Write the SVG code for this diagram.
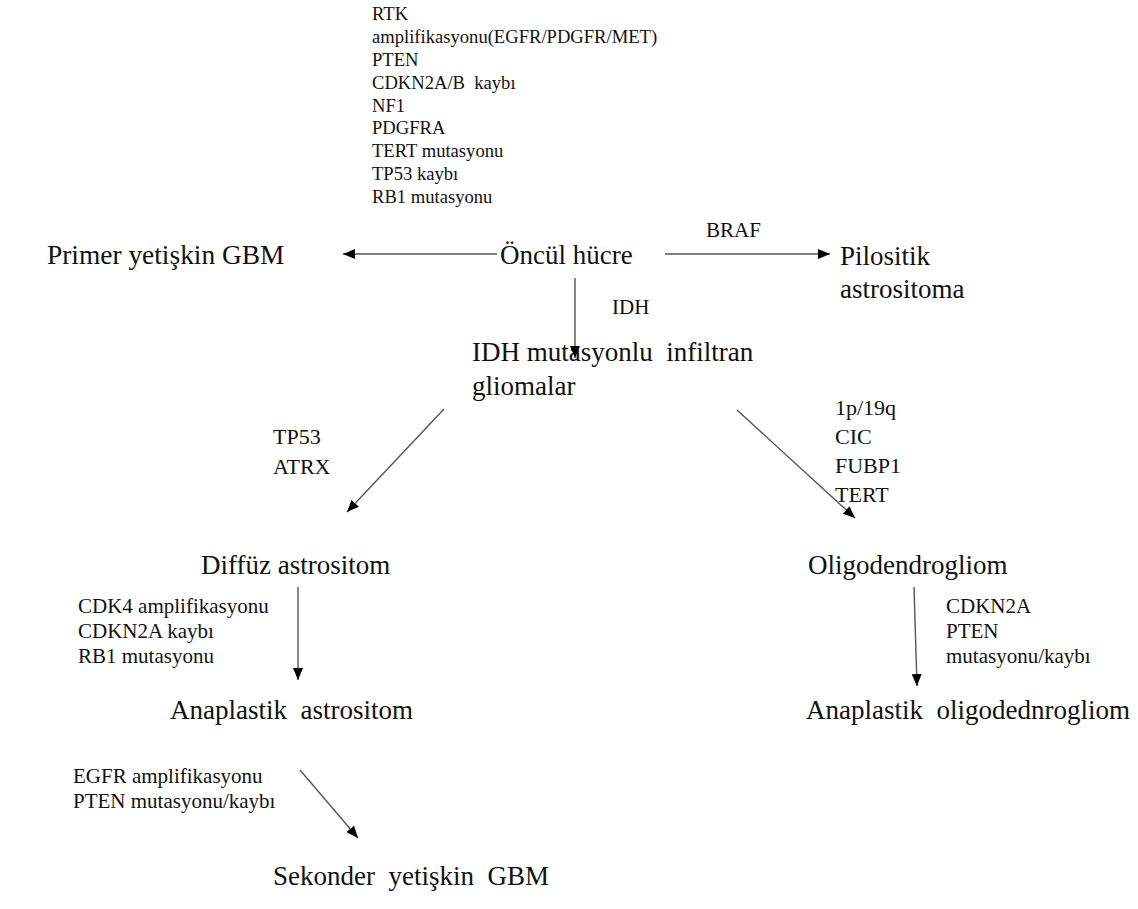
<svg xmlns="http://www.w3.org/2000/svg" width="1138" height="909" viewBox="0 0 1138 909">
<style>
text{font-family:"Liberation Serif","Times New Roman",serif;fill:#111}
.big{font-size:27px}
.sm{font-size:18.6px}
.md{font-size:21px}
.lb{font-size:22px}
.conn line{stroke:#555;stroke-width:1.4;fill:none}
</style>
<defs>
<marker id="ah" markerWidth="12" markerHeight="10" refX="12" refY="5" orient="auto" markerUnits="userSpaceOnUse">
<path d="M0,0 L12,5 L0,10 Z" fill="#000"/>
</marker>
</defs>
<rect width="1138" height="909" fill="#fff"/>

<g id="labels-top" class="sm">
<text x="372" y="20">RTK</text>
<text x="372" y="43">amplifikasyonu(EGFR/PDGFR/MET)</text>
<text x="372" y="66">PTEN</text>
<text x="372" y="89" xml:space="preserve">CDKN2A/B  kaybı</text>
<text x="372" y="112">NF1</text>
<text x="372" y="134">PDGFRA</text>
<text x="372" y="157">TERT mutasyonu</text>
<text x="372" y="180">TP53 kaybı</text>
<text x="372" y="203">RB1 mutasyonu</text>
</g>

<g id="n-primer"><text class="big" x="47" y="264" style="font-size:27.4px">Primer yetişkin GBM</text></g>
<g id="n-oncul"><text class="big" x="500" y="264">Öncül hücre</text></g>
<g id="n-pilositik">
<text class="big" x="840" y="265">Pilositik</text>
<text class="big" x="840" y="298">astrositoma</text>
</g>
<g id="n-idh">
<text class="big" x="472" y="361" xml:space="preserve">IDH mutasyonlu  infiltran</text>
<text class="big" x="472" y="395">gliomalar</text>
</g>
<g id="n-diffuz"><text class="big" x="201" y="574">Diffüz astrositom</text></g>
<g id="n-oligo"><text class="big" x="808" y="574">Oligodendrogliom</text></g>
<g id="n-anaplastik-a"><text class="big" x="170" y="719" xml:space="preserve">Anaplastik  astrositom</text></g>
<g id="n-anaplastik-o"><text class="big" x="806" y="719" xml:space="preserve">Anaplastik  oligodednrogliom</text></g>
<g id="n-sekonder"><text class="big" x="273" y="885" xml:space="preserve">Sekonder  yetişkin  GBM</text></g>

<g id="edge-labels">
<text class="md" x="706" y="237">BRAF</text>
<text class="md" x="612" y="314">IDH</text>
<text class="lb" x="273" y="444">TP53</text>
<text class="lb" x="273" y="474">ATRX</text>
<text class="lb" x="835" y="415">1p/19q</text>
<text class="lb" x="835" y="444">CIC</text>
<text class="lb" x="835" y="473">FUBP1</text>
<text class="lb" x="835" y="502">TERT</text>
<text class="md" x="78" y="613">CDK4 amplifikasyonu</text>
<text class="md" x="78" y="638">CDKN2A kaybı</text>
<text class="md" x="78" y="663">RB1 mutasyonu</text>
<text class="md" x="946" y="613">CDKN2A</text>
<text class="md" x="946" y="638">PTEN</text>
<text class="md" x="946" y="663">mutasyonu/kaybı</text>
<text class="md" x="73" y="783">EGFR amplifikasyonu</text>
<text class="md" x="73" y="808">PTEN mutasyonu/kaybı</text>
</g>

<g id="connectors" class="conn">
<line x1="497" y1="254" x2="343" y2="254" marker-end="url(#ah)"/>
<line x1="665" y1="254" x2="830" y2="254" marker-end="url(#ah)"/>
<line x1="575" y1="278" x2="575" y2="358" marker-end="url(#ah)"/>
<line x1="444" y1="409" x2="347" y2="512" marker-end="url(#ah)"/>
<line x1="737" y1="410" x2="855" y2="518" marker-end="url(#ah)"/>
<line x1="298" y1="587" x2="298" y2="680" marker-end="url(#ah)"/>
<line x1="914" y1="587" x2="917" y2="686" marker-end="url(#ah)"/>
<line x1="300" y1="770" x2="358" y2="838" marker-end="url(#ah)"/>
</g>
</svg>
